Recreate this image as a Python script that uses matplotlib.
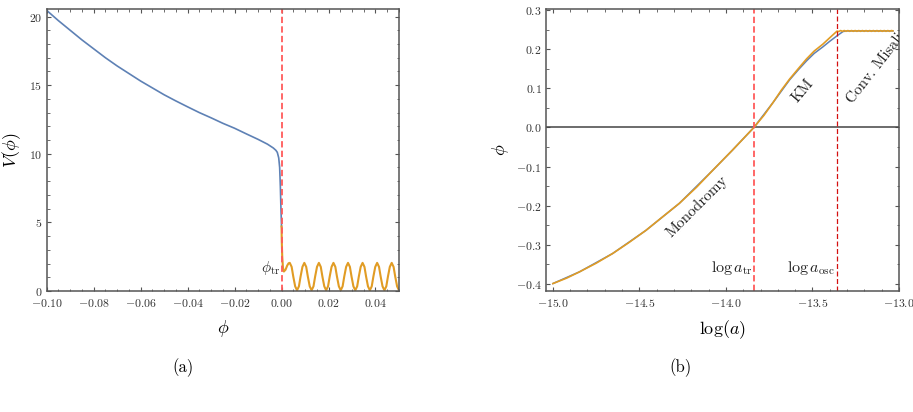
import numpy as np
import matplotlib
matplotlib.use("Agg")
import matplotlib.pyplot as plt

plt.rcParams['font.family'] = 'serif'
plt.rcParams['font.serif'] = ['cmr10', 'DejaVu Serif']
plt.rcParams['mathtext.fontset'] = 'cm'
plt.rcParams['axes.formatter.use_mathtext'] = True

blue = '#5e81b5'
orange = '#e19c24'
frame = '#555555'

# panel (a): potential
phi_neg = [-0.100, -0.095, -0.090, -0.085, -0.080, -0.075, -0.070, -0.065, -0.060,
           -0.055, -0.050, -0.045, -0.040, -0.035, -0.030, -0.025, -0.020,
           -0.015, -0.010, -0.006, -0.0035, -0.0024, -0.0018, -0.0012, -0.0008,
           -0.0005, -0.0003, -0.0001, 0.0]
V_neg = [20.45, 19.7, 19.0, 18.3, 17.65, 17.0, 16.4, 15.85, 15.3,
         14.8, 14.3, 13.85, 13.42, 13.0, 12.62, 12.22, 11.86,
         11.45, 11.05, 10.7, 10.42, 10.25, 10.1, 9.7, 9.0,
         7.6, 6.3, 5.2, 4.7]

phi_pos = [0.0000, 0.0001, 0.0003, 0.0006, 0.0010, 0.0017, 0.0024, 0.0030, 0.0035,
           0.0043, 0.0050, 0.0058, 0.0066, 0.0074, 0.0081, 0.0089, 0.0097,
           0.0105, 0.0112, 0.0120, 0.0128, 0.0136, 0.0143, 0.0151, 0.0159,
           0.0167, 0.0174, 0.0182, 0.0190, 0.0198, 0.0205, 0.0213, 0.0221,
           0.0229, 0.0236, 0.0244, 0.0252, 0.0260, 0.0267, 0.0275, 0.0283,
           0.0291, 0.0298, 0.0306, 0.0314, 0.0322, 0.0329, 0.0337, 0.0345,
           0.0353, 0.0360, 0.0368, 0.0376, 0.0384, 0.0391, 0.0399, 0.0407,
           0.0415, 0.0422, 0.0430, 0.0438, 0.0446, 0.0453, 0.0461, 0.0469,
           0.0477, 0.0484, 0.0492, 0.0500]
V_pos = [4.7, 3.6, 2.5, 1.7, 1.42, 1.55, 1.85, 2.02, 2.05,
         1.76, 1.05, 0.34, 0.05, 0.34, 1.05, 1.76, 2.05,
         1.76, 1.05, 0.34, 0.05, 0.34, 1.05, 1.76, 2.05,
         1.76, 1.05, 0.34, 0.05, 0.34, 1.05, 1.76, 2.05,
         1.76, 1.05, 0.34, 0.05, 0.34, 1.05, 1.76, 2.05,
         1.76, 1.05, 0.34, 0.05, 0.34, 1.05, 1.76, 2.05,
         1.76, 1.05, 0.34, 0.05, 0.34, 1.05, 1.76, 2.05,
         1.76, 1.05, 0.34, 0.05, 0.34, 1.05, 1.76, 2.05,
         1.76, 1.05, 0.34, 0.05]

# panel (b): field evolution
loga_o = [-15.0, -14.92, -14.846, -14.75, -14.654, -14.56, -14.462, -14.37, -14.269,
          -14.17, -14.077, -13.962, -13.838, -13.78, -13.727, -13.68, -13.631,
          -13.58, -13.534, -13.49, -13.439, -13.40, -13.358, -13.348, -13.337,
          -13.327, -13.316, -13.306, -13.295, -13.285, -13.274, -13.264, -13.253,
          -13.243, -13.232, -13.222, -13.211, -13.201, -13.190, -13.180, -13.169,
          -13.159, -13.148, -13.138, -13.127, -13.117, -13.106, -13.096, -13.085,
          -13.075, -13.064, -13.054, -13.043, -13.035]
phi_o = [-0.399, -0.385, -0.369, -0.347, -0.322, -0.294, -0.263, -0.230, -0.194,
         -0.153, -0.110, -0.058, 0.0, 0.031, 0.064, 0.095, 0.124,
         0.151, 0.175, 0.195, 0.213, 0.229, 0.246, 0.2450, 0.2475,
         0.2455, 0.2475, 0.2455, 0.2475, 0.2455, 0.2475, 0.2455, 0.2475,
         0.2455, 0.2475, 0.2455, 0.2475, 0.2455, 0.2475, 0.2455, 0.2475,
         0.2455, 0.2475, 0.2455, 0.2475, 0.2455, 0.2475, 0.2455, 0.2475,
         0.2455, 0.2475, 0.2455, 0.2475, 0.2465]

loga_b = [-15.0, -14.846, -14.654, -14.462, -14.269, -14.077, -13.962, -13.838,
          -13.727, -13.631, -13.58, -13.534, -13.49, -13.439, -13.40, -13.358,
          -13.323, -13.30, -13.035]
phi_b = [-0.399, -0.369, -0.322, -0.263, -0.194, -0.110, -0.058, 0.0,
         0.064, 0.122, 0.148, 0.170, 0.189, 0.206, 0.220, 0.234,
         0.245, 0.2465, 0.2465]

loga_tr = -13.838
loga_osc = -13.358

fig = plt.figure(figsize=(9.13, 4.12), dpi=100)
ax1 = fig.add_axes([0.0511, 0.2937, 0.3859, 0.6845])
ax2 = fig.add_axes([0.5980, 0.2937, 0.3866, 0.6845])

for ax in (ax1, ax2):
    for s in ax.spines.values():
        s.set_color(frame)
        s.set_linewidth(1.1)
    ax.tick_params(which='both', direction='in', top=True, right=True,
                   color=frame, labelsize=8.5, labelcolor='#333333')
    ax.tick_params(which='major', length=3.2, width=0.8)
    ax.tick_params(which='minor', length=1.8, width=0.6)
    ax.tick_params(axis='x', pad=4)
    ax.tick_params(axis='y', pad=3)

# (a)
ax1.plot(phi_neg, V_neg, color=blue, lw=1.2, solid_joinstyle='round')
ax1.plot(phi_pos, V_pos, color=orange, lw=1.5, solid_joinstyle='round')
ax1.axvline(0.0, color='#ff5a5a', lw=1.3, ls=(0, (3.5, 1.8)))
ax1.set_xlim(-0.1, 0.05)
ax1.set_ylim(0, 20.55)
ax1.set_xticks(np.arange(-0.10, 0.051, 0.02))
ax1.set_xticks(np.arange(-0.10, 0.051, 0.005), minor=True)
ax1.set_yticks([0, 5, 10, 15, 20])
ax1.set_yticks(np.arange(0, 20.5, 1), minor=True)
ax1.xaxis.set_major_formatter(plt.FuncFormatter(lambda v, p: '$%.2f$' % (0.0 if abs(v) < 1e-9 else v)))
ax1.yaxis.set_major_formatter(plt.FuncFormatter(lambda v, p: '$%d$' % round(v)))
ax1.set_xlabel(r'$\phi$', fontsize=13)
ax1.set_ylabel(r'$V(\phi)$', fontsize=13)
ax1.xaxis.set_label_coords(0.5, -0.096)
ax1.yaxis.set_label_coords(-0.068, 0.5)
ax1.text(-0.0007, 1.0, r'$\phi_{\rm tr}$', fontsize=11, ha='right', va='bottom', color='#222222')

# (b)
ax2.axhline(0.0, color='#444444', lw=1.1)
ax2.plot(loga_b, phi_b, color=blue, lw=1.1, solid_joinstyle='round')
ax2.plot(loga_o, phi_o, color=orange, lw=1.2, solid_joinstyle='round')
ax2.axvline(loga_tr, color='#ff5a5a', lw=1.3, ls=(0, (3.5, 1.8)))
ax2.axvline(loga_osc, color='#d41010', lw=0.9, ls=(0, (4, 2)))
ax2.set_xlim(-15.04, -13.0)
ax2.set_ylim(-0.418, 0.3026)
ax2.set_xticks(np.arange(-15.0, -12.99, 0.5))
ax2.set_xticks(np.arange(-15.0, -12.99, 0.1), minor=True)
ax2.set_yticks(np.arange(-0.4, 0.31, 0.1))
ax2.set_yticks(np.arange(-0.4, 0.31, 0.05), minor=True)
ax2.xaxis.set_major_formatter(plt.FuncFormatter(lambda v, p: '$%.1f$' % v))
ax2.yaxis.set_major_formatter(plt.FuncFormatter(lambda v, p: '$%.1f$' % (0.0 if abs(v) < 1e-9 else v)))
ax2.set_xlabel(r'$\log(a)$', fontsize=13)
ax2.set_ylabel(r'$\phi$', fontsize=13)
ax2.xaxis.set_label_coords(0.5, -0.096)
ax2.yaxis.set_label_coords(-0.099, 0.5)
ax2.text(-14.17, -0.203, 'Monodromy', fontsize=11, rotation=45, ha='center', va='center',
         rotation_mode='anchor', color='#222222')
ax2.text(-13.555, 0.095, 'KM', fontsize=11, rotation=50, ha='center', va='center',
         rotation_mode='anchor', color='#222222')
ax2.text(-13.285, 0.065, 'Conv. Misalignment', fontsize=11, rotation=52, ha='left', va='center',
         rotation_mode='anchor', color='#222222', clip_on=True)
ax2.text(loga_tr - 0.01, -0.36, r'$\log a_{\rm tr}$', fontsize=11.5, ha='right', va='center', color='#222222')
ax2.text(loga_osc - 0.01, -0.36, r'$\log a_{\rm osc}$', fontsize=11.5, ha='right', va='center', color='#222222')

fig.text(183 / 913, 1 - 368 / 412, '(a)', fontsize=12, ha='center', va='center')
fig.text(680 / 913, 1 - 368 / 412, '(b)', fontsize=12, ha='center', va='center')

fig.savefig('out.png', dpi=100)
